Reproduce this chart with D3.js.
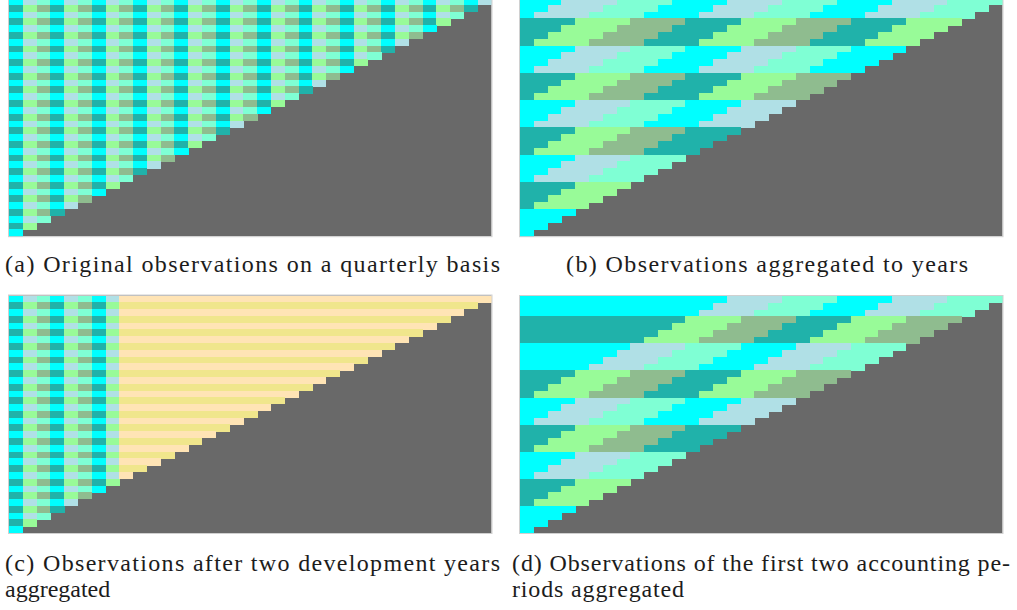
<!DOCTYPE html>
<html>
<head>
<meta charset="utf-8">
<script src="https://cdn.jsdelivr.net/npm/d3@7"></script>
<style>
  html, body { margin: 0; padding: 0; background: #ffffff; }
  svg { display: block; }
  .cap { font-family: "Liberation Serif", "DejaVu Serif", serif; font-size: 24px; fill: #1c1c1c; }
</style>
</head>
<body>
<svg id="chart" width="1017" height="610"></svg>
<script>
// Run-off triangle: accounting quarters (rows) x development quarters (columns)
const nQuarters = 35;
const quartersPerYear = 4;
const firstQuarterShift = 1;          // first accounting year holds three quarters
const devQuartersKept = 8;            // (c): first two development years stay quarterly
const aggregatedDiagonal = 14;        // (d): cells with row + col <= 14 merged

// colour groups alternate with accounting period parity
const groupEven = ["#00ffff", "#b0e0e6", "#7fffd4"];   // cyan, powderblue, aquamarine
const groupOdd  = ["#20b2aa", "#98fb98", "#8fbc8f"];   // lightseagreen, palegreen, darkseagreen
const aggregatedColors = ["#ffe4b5", "#f0e68c"];       // moccasin, khaki
const emptyColor = "#696969";

const captionA = ["(a) Original observations on a quarterly basis"];
const captionB = ["(b) Observations aggregated to years"];
const captionC = ["(c) Observations after two development years", "aggregated"];
const captionD = ["(d) Observations of the first two accounting pe-", "riods aggregated"];

const groups = [groupEven, groupOdd];

function accYear(i) { return Math.floor((i + firstQuarterShift) / quartersPerYear); }
function devYear(i, j) {
  const r = (i + firstQuarterShift) % quartersPerYear;
  return Math.floor((j + r) / quartersPerYear);
}

const colorRules = {
  a: (i, j) => groups[i % 2][j % 3],
  b: (i, j) => groups[accYear(i) % 2][devYear(i, j) % 3],
  c: (i, j) => j < devQuartersKept ? groups[i % 2][j % 3] : aggregatedColors[i % 2],
  d: (i, j) => {
    const a = accYear(i);
    let d = devYear(i, j);
    if (i + j <= aggregatedDiagonal) d = 0;
    else d = d - Math.max(0, Math.floor((aggregatedDiagonal + 1) / quartersPerYear) - a);
    return groups[a % 2][d % 3];
  }
};

// cw: set widths of the caption lines (null keeps the natural width)
const layout = [
  { id: "a", x0: 9,   x1: 491.5,  y0: -2,    y1: 236.2, caption: captionA, cx: 5,   cw: [495],      cy: 272 },
  { id: "b", x0: 520, x1: 1002.5, y0: -2,    y1: 236.2, caption: captionB, cx: 566, cw: [402],      cy: 272 },
  { id: "c", x0: 9,   x1: 491.5,  y0: 295.5, y1: 533,   caption: captionC, cx: 5,   cw: [495, null], cy: 571 },
  { id: "d", x0: 520, x1: 1002.5, y0: 296,   y1: 533,   caption: captionD, cx: 512, cw: [498, 172], cy: 571 }
];
const lineGap = 26;

const svg = d3.select("#chart");
const idx = d3.range(nQuarters);

layout.forEach(p => {
  const x = d3.scaleBand().domain(idx).range([p.x0, p.x1]);
  const y = d3.scaleBand().domain(idx).range([p.y0, p.y1]);
  const g = svg.append("g").attr("class", "panel-" + p.id);

  g.append("rect")
    .attr("x", p.x0).attr("y", p.y0)
    .attr("width", p.x1 - p.x0).attr("height", p.y1 - p.y0)
    .attr("fill", emptyColor);

  const cells = [];
  idx.forEach(i => {
    d3.range(nQuarters - i).forEach(j => cells.push({ i, j, c: colorRules[p.id](i, j) }));
  });

  g.selectAll("rect.cell").data(cells).join("rect")
    .attr("class", "cell")
    .attr("x", d => x(d.j))
    .attr("y", d => y(d.i))
    .attr("width", x.bandwidth() + 0.4)
    .attr("height", y.bandwidth() + 0.4)
    .attr("fill", d => d.c)
    .attr("shape-rendering", "crispEdges");

  g.append("rect")
    .attr("x", p.x0 - 0.5).attr("y", p.y0 - 0.5)
    .attr("width", p.x1 - p.x0 + 1).attr("height", p.y1 - p.y0 + 1)
    .attr("fill", "none").attr("stroke", "#d0d0d0").attr("stroke-width", 1);

  // caption lines, flush left at the column edge
  p.caption.forEach((line, k) => {
    const t = svg.append("text").attr("class", "cap")
      .attr("x", p.cx)
      .attr("y", p.cy + k * lineGap)
      .text(line);
    if (p.cw[k]) t.attr("textLength", p.cw[k]).attr("lengthAdjust", "spacing");
  });
});
</script>
</body>
</html>
